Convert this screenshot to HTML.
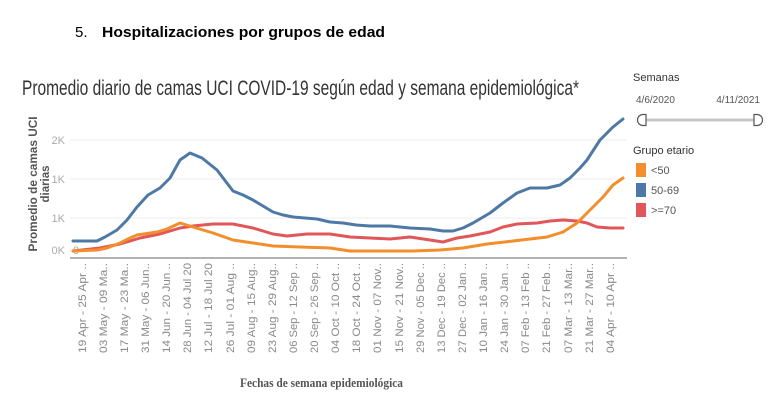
<!DOCTYPE html>
<html><head><meta charset="utf-8"><style>
html,body{margin:0;padding:0;background:#fff;}
svg{display:block;}
</style></head><body>
<svg width="784" height="416" viewBox="0 0 784 416" xmlns="http://www.w3.org/2000/svg">
<rect width="784" height="416" fill="#fff"/>
<!-- header -->
<text x="75" y="37" font-family="Liberation Sans, Arial, sans-serif" font-size="15" fill="#000">5.</text>
<text x="102" y="37" font-family="Liberation Sans, Arial, sans-serif" font-size="15" font-weight="bold" fill="#000" textLength="283" lengthAdjust="spacingAndGlyphs">Hospitalizaciones por grupos de edad</text>
<!-- title -->
<text x="22" y="95" font-family="Liberation Sans, sans-serif" font-size="21" fill="#333" textLength="557" lengthAdjust="spacingAndGlyphs">Promedio diario de camas UCI COVID-19 según edad y semana epidemiológica*</text>
<!-- gridlines -->
<g stroke="#ececec" stroke-width="1">
<line x1="70" y1="140" x2="627" y2="140"/>
<line x1="70" y1="179" x2="627" y2="179"/>
<line x1="70" y1="218" x2="627" y2="218"/>
</g>
<line x1="70" y1="258" x2="627" y2="258" stroke="#999" stroke-width="1.5"/>
<!-- y tick labels -->
<g font-family="Liberation Sans, sans-serif" font-size="11" fill="#aaa" text-anchor="end">
<text x="65" y="144">2K</text>
<text x="65" y="183">1K</text>
<text x="65" y="222">1K</text>
<text x="65" y="254">0K</text>
</g>
<text x="73" y="254" font-family="Liberation Sans, sans-serif" font-size="11" fill="#aaa">0</text>
<!-- y axis title -->
<g font-family="Liberation Sans, sans-serif" font-size="11.5" font-weight="bold" fill="#555" text-anchor="middle">
<text transform="translate(37,184) rotate(-90)" textLength="135" lengthAdjust="spacingAndGlyphs">Promedio de camas UCI</text>
<text transform="translate(49,184) rotate(-90)">diarias</text>
</g>
<!-- series -->
<g fill="none" stroke-width="3" stroke-linejoin="round" stroke-linecap="round">
<polyline stroke="#E15759" points="73,251 100,248 120,244 140,238 160,234 180,228 193,226 213,224 233,224 253,228 273,234 287,236 307,234 330,234 350,237 370,238 390,239 410,237 430,240 443,242 457,238 470,236 490,232 503,227 517,224 537,223 550,221 563,220 577,221 587,223 597,227 610,228 623,228"/>
<polyline stroke="#4E79A7" points="73,241 84,241 97,241 105,237 117,230 127,220 137,207 148,195 160,188 170,178 180,160 190,153 202,158 217,170 233,191 243,195 253,200 263,206 273,212 283,215 293,217 305,218 317,219 330,222 343,223 356,225 370,226 390,226 400,227 410,228 430,229 443,231 453,231 463,228 473,223 490,213 503,203 517,193 530,188 547,188 560,185 570,178 580,168 587,160 600,140 613,127 623,119"/>
<polyline stroke="#F28E2B" points="73,251 97,250 107,248 120,243 130,238 137,235 157,232 167,229 180,223 193,227 213,233 233,240 253,243 273,246 300,247 330,248 350,251 380,251 413,251 440,250 463,248 475,246 487,244 513,241 530,239 547,237 563,232 577,223 590,210 603,197 613,185 623,178"/>
</g>
<!-- x labels -->
<g font-family="Liberation Sans, sans-serif" font-size="11" fill="#8a8a8a" text-anchor="end">
<text transform="translate(86,263) rotate(-90)" textLength="90" lengthAdjust="spacingAndGlyphs">19 Apr - 25 Apr ..</text>
<text transform="translate(107,263) rotate(-90)" textLength="90" lengthAdjust="spacingAndGlyphs">03 May - 09 Ma..</text>
<text transform="translate(128,263) rotate(-90)" textLength="90" lengthAdjust="spacingAndGlyphs">17 May - 23 Ma..</text>
<text transform="translate(149,263) rotate(-90)" textLength="90" lengthAdjust="spacingAndGlyphs">31 May - 06 Jun..</text>
<text transform="translate(170,263) rotate(-90)" textLength="90" lengthAdjust="spacingAndGlyphs">14 Jun - 20 Jun ..</text>
<text transform="translate(191,263) rotate(-90)" textLength="90" lengthAdjust="spacingAndGlyphs">28 Jun - 04 Jul 20</text>
<text transform="translate(212,263) rotate(-90)" textLength="90" lengthAdjust="spacingAndGlyphs">12 Jul - 18 Jul 20</text>
<text transform="translate(234,263) rotate(-90)" textLength="90" lengthAdjust="spacingAndGlyphs">26 Jul - 01 Aug ..</text>
<text transform="translate(255,263) rotate(-90)" textLength="90" lengthAdjust="spacingAndGlyphs">09 Aug - 15 Aug..</text>
<text transform="translate(276,263) rotate(-90)" textLength="90" lengthAdjust="spacingAndGlyphs">23 Aug - 29 Aug..</text>
<text transform="translate(297,263) rotate(-90)" textLength="90" lengthAdjust="spacingAndGlyphs">06 Sep - 12 Sep ..</text>
<text transform="translate(318,263) rotate(-90)" textLength="90" lengthAdjust="spacingAndGlyphs">20 Sep - 26 Sep ..</text>
<text transform="translate(339,263) rotate(-90)" textLength="90" lengthAdjust="spacingAndGlyphs">04 Oct - 10 Oct ..</text>
<text transform="translate(360,263) rotate(-90)" textLength="90" lengthAdjust="spacingAndGlyphs">18 Oct - 24 Oct ..</text>
<text transform="translate(381,263) rotate(-90)" textLength="90" lengthAdjust="spacingAndGlyphs">01 Nov - 07 Nov..</text>
<text transform="translate(403,263) rotate(-90)" textLength="90" lengthAdjust="spacingAndGlyphs">15 Nov - 21 Nov..</text>
<text transform="translate(424,263) rotate(-90)" textLength="90" lengthAdjust="spacingAndGlyphs">29 Nov - 05 Dec ..</text>
<text transform="translate(445,263) rotate(-90)" textLength="90" lengthAdjust="spacingAndGlyphs">13 Dec - 19 Dec ..</text>
<text transform="translate(466,263) rotate(-90)" textLength="90" lengthAdjust="spacingAndGlyphs">27 Dec - 02 Jan ..</text>
<text transform="translate(487,263) rotate(-90)" textLength="90" lengthAdjust="spacingAndGlyphs">10 Jan - 16 Jan ..</text>
<text transform="translate(508,263) rotate(-90)" textLength="90" lengthAdjust="spacingAndGlyphs">24 Jan - 30 Jan ..</text>
<text transform="translate(529,263) rotate(-90)" textLength="90" lengthAdjust="spacingAndGlyphs">07 Feb - 13 Feb ..</text>
<text transform="translate(550,263) rotate(-90)" textLength="90" lengthAdjust="spacingAndGlyphs">21 Feb - 27 Feb ..</text>
<text transform="translate(572,263) rotate(-90)" textLength="90" lengthAdjust="spacingAndGlyphs">07 Mar - 13 Mar..</text>
<text transform="translate(593,263) rotate(-90)" textLength="90" lengthAdjust="spacingAndGlyphs">21 Mar - 27 Mar..</text>
<text transform="translate(614,263) rotate(-90)" textLength="90" lengthAdjust="spacingAndGlyphs">04 Apr - 10 Apr ..</text>
</g>
<!-- x axis title -->
<text x="240" y="387" font-family="Liberation Serif, serif" font-size="13" font-weight="bold" fill="#555" textLength="163" lengthAdjust="spacingAndGlyphs">Fechas de semana epidemiológica</text>
<!-- legend: Semanas -->
<g font-family="Liberation Sans, sans-serif">
<text x="633" y="81" font-size="11" fill="#333">Semanas</text>
<text x="636" y="103" font-size="10" fill="#555">4/6/2020</text>
<text x="760" y="103" font-size="10" fill="#555" text-anchor="end">4/11/2021</text>
<line x1="646" y1="120" x2="754" y2="120" stroke="#c8c8c8" stroke-width="3"/>
<path d="M646,114.5 L643,114.5 A5.5,5.5 0 0 0 643,125.5 L646,125.5 Z" fill="#fff" stroke="#555" stroke-width="1.2"/>
<path d="M754,114.5 L757,114.5 A5.5,5.5 0 0 1 757,125.5 L754,125.5 Z" fill="#fff" stroke="#555" stroke-width="1.2"/>
<text x="633" y="154" font-size="11" fill="#333">Grupo etario</text>
<rect x="636" y="163" width="10" height="14" fill="#F28E2B"/>
<rect x="636" y="183" width="10" height="14" fill="#4E79A7"/>
<rect x="636" y="203" width="10" height="14" fill="#E15759"/>
<text x="651" y="174" font-size="11" fill="#555">&lt;50</text>
<text x="651" y="194" font-size="11" fill="#555">50-69</text>
<text x="651" y="214" font-size="11" fill="#555">&gt;=70</text>
</g>
</svg>
</body></html>
